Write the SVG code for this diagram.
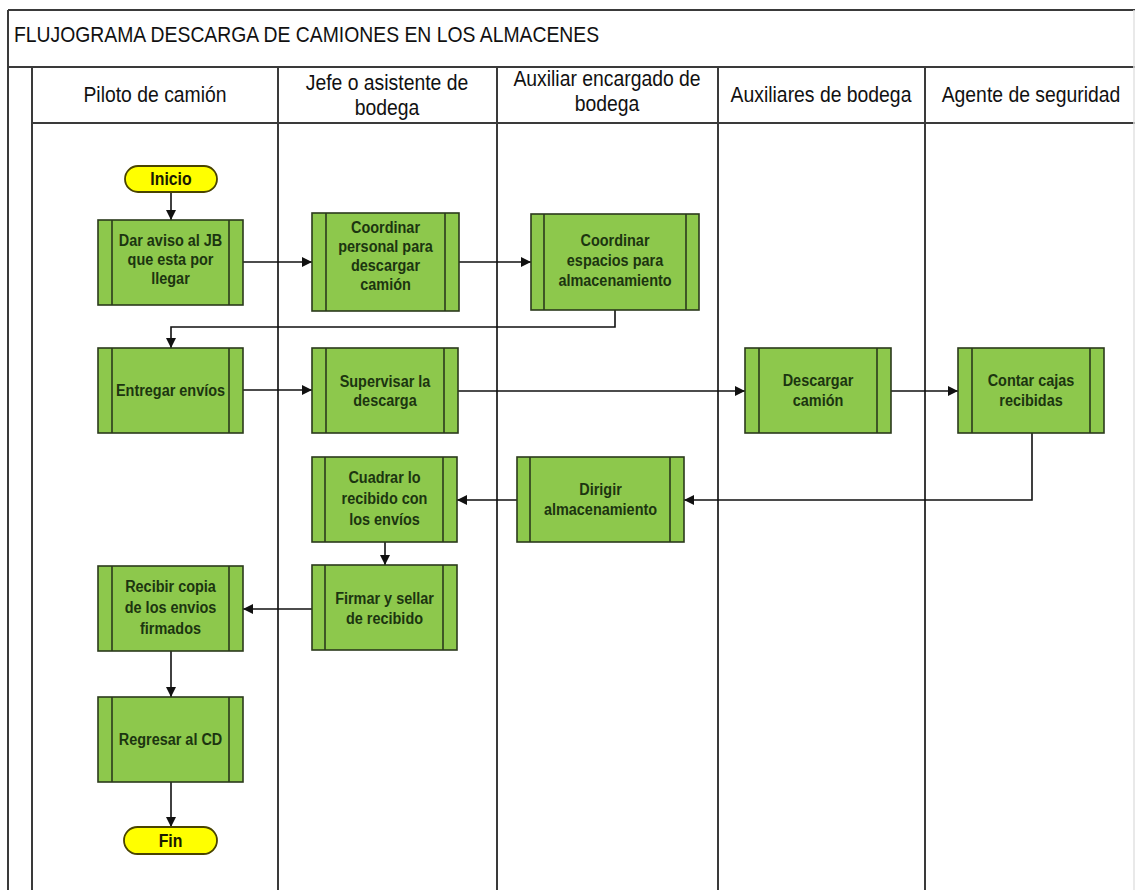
<svg xmlns="http://www.w3.org/2000/svg" width="1135" height="890" viewBox="0 0 1135 890">
  <defs>
    <style>
      .grid { stroke: #3a3a3a; stroke-width: 2; fill: none; }
      .title { font-family: "Liberation Sans", Arial, sans-serif; font-size: 22px; fill: #111; }
      .hd { font-family: "Liberation Sans", Arial, sans-serif; font-size: 22px; fill: #111; text-anchor: middle; }
      .box { fill: #8DC84C; stroke: #2b3a1c; stroke-width: 1.6; }
      .bar { stroke: #2b3a1c; stroke-width: 1.6; fill: none; }
      .term { fill: #FFFF00; stroke: #4a4400; stroke-width: 1.8; }
      .nt { font-family: "Liberation Sans", Arial, sans-serif; font-size: 17px; font-weight: bold; fill: #1c3510; text-anchor: middle; }
      .tt { font-family: "Liberation Sans", Arial, sans-serif; font-size: 18px; font-weight: bold; fill: #1a1a00; text-anchor: middle; }
      .conn { stroke: #111; stroke-width: 1.6; fill: none; marker-end: url(#arrow); }
    </style>
    <marker id="arrow" markerUnits="userSpaceOnUse" markerWidth="11" markerHeight="10" refX="10" refY="5" orient="auto">
      <path d="M0,0 L10,5 L0,10 z" fill="#111"/>
    </marker>
  </defs>

  <rect width="1135" height="890" fill="#ffffff"/>

  <!-- Swimlane frame -->
  <g id="frame">
    <line class="grid" x1="8" y1="10" x2="1135" y2="10"/>
    <line class="grid" x1="8" y1="67" x2="1135" y2="67"/>
    <line class="grid" x1="32" y1="123" x2="1135" y2="123" stroke="#555"/>
    <line class="grid" x1="8" y1="10" x2="8" y2="890"/>
    <line class="grid" x1="32" y1="67" x2="32" y2="890"/>
    <line class="grid" x1="278" y1="67" x2="278" y2="890"/>
    <line class="grid" x1="497" y1="67" x2="497" y2="890"/>
    <line class="grid" x1="718" y1="67" x2="718" y2="890"/>
    <line class="grid" x1="925" y1="67" x2="925" y2="890"/>
    <line x1="1134" y1="10" x2="1134" y2="890" stroke="#e2e2e2" stroke-width="1.5"/>
    <text class="title" transform="translate(14 0) scale(0.88 1)" x="0" y="42">FLUJOGRAMA DESCARGA DE CAMIONES EN LOS ALMACENES</text>
    <text class="hd" transform="translate(155 0) scale(0.88 1)" x="0" y="102">Piloto de camión</text>
    <text class="hd" transform="translate(387 0) scale(0.88 1)"><tspan x="0" y="90">Jefe o asistente de</tspan><tspan x="0" y="115">bodega</tspan></text>
    <text class="hd" transform="translate(607 0) scale(0.88 1)"><tspan x="0" y="86">Auxiliar encargado de</tspan><tspan x="0" y="111">bodega</tspan></text>
    <text class="hd" transform="translate(821 0) scale(0.88 1)" x="0" y="102">Auxiliares de bodega</text>
    <text class="hd" transform="translate(1031 0) scale(0.88 1)" x="0" y="102">Agente de seguridad</text>
  </g>

  <!-- Connectors -->
  <g id="connectors">
    <path class="conn" d="M171,192 V220"/>
    <path class="conn" d="M243,262 H312"/>
    <path class="conn" d="M459,262 H531"/>
    <path class="conn" d="M615,310 V327 H171 V348"/>
    <path class="conn" d="M243,390 H312"/>
    <path class="conn" d="M458,391 H745"/>
    <path class="conn" d="M891,391 H958"/>
    <path class="conn" d="M1032,433 V500 H684"/>
    <path class="conn" d="M517,500 H457"/>
    <path class="conn" d="M385,542 V565"/>
    <path class="conn" d="M312,609 H243"/>
    <path class="conn" d="M171,651 V697"/>
    <path class="conn" d="M171,782 V827"/>
  </g>

  <!-- Start / end terminals -->
  <g id="inicio">
    <rect class="term" x="125" y="166" width="92" height="26" rx="13"/>
    <text class="tt" transform="translate(171 0) scale(0.88 1)" x="0" y="185.5">Inicio</text>
  </g>
  <g id="fin">
    <rect class="term" x="124" y="827" width="93" height="27" rx="13.5"/>
    <text class="tt" transform="translate(170.5 0) scale(0.88 1)" x="0" y="847.5">Fin</text>
  </g>

  <!-- Process nodes -->
  <g id="dar-aviso">
    <rect class="box" x="98" y="220" width="145" height="85"/>
    <line class="bar" x1="112" y1="220" x2="112" y2="305"/>
    <line class="bar" x1="229" y1="220" x2="229" y2="305"/>
    <text class="nt" transform="translate(170.5 0) scale(0.85 1)"><tspan x="0" y="246">Dar aviso al JB</tspan><tspan x="0" y="265">que esta por</tspan><tspan x="0" y="284">llegar</tspan></text>
  </g>

  <g id="coordinar-personal">
    <rect class="box" x="312" y="213" width="147" height="98"/>
    <line class="bar" x1="326" y1="213" x2="326" y2="311"/>
    <line class="bar" x1="445" y1="213" x2="445" y2="311"/>
    <text class="nt" transform="translate(385.5 0) scale(0.85 1)"><tspan x="0" y="233">Coordinar</tspan><tspan x="0" y="252">personal para</tspan><tspan x="0" y="271">descargar</tspan><tspan x="0" y="290">camión</tspan></text>
  </g>

  <g id="coordinar-espacios">
    <rect class="box" x="531" y="214" width="168" height="96"/>
    <line class="bar" x1="544" y1="214" x2="544" y2="310"/>
    <line class="bar" x1="686" y1="214" x2="686" y2="310"/>
    <text class="nt" transform="translate(615 0) scale(0.85 1)"><tspan x="0" y="246">Coordinar</tspan><tspan x="0" y="266">espacios para</tspan><tspan x="0" y="286">almacenamiento</tspan></text>
  </g>

  <g id="entregar-envios">
    <rect class="box" x="98" y="348" width="145" height="85"/>
    <line class="bar" x1="112" y1="348" x2="112" y2="433"/>
    <line class="bar" x1="229" y1="348" x2="229" y2="433"/>
    <text class="nt" transform="translate(170.5 0) scale(0.85 1)" x="0" y="396">Entregar envíos</text>
  </g>

  <g id="supervisar">
    <rect class="box" x="312" y="348" width="146" height="85"/>
    <line class="bar" x1="326" y1="348" x2="326" y2="433"/>
    <line class="bar" x1="444" y1="348" x2="444" y2="433"/>
    <text class="nt" transform="translate(385 0) scale(0.85 1)"><tspan x="0" y="387">Supervisar la</tspan><tspan x="0" y="406">descarga</tspan></text>
  </g>

  <g id="descargar">
    <rect class="box" x="745" y="348" width="146" height="85"/>
    <line class="bar" x1="759" y1="348" x2="759" y2="433"/>
    <line class="bar" x1="877" y1="348" x2="877" y2="433"/>
    <text class="nt" transform="translate(818 0) scale(0.85 1)"><tspan x="0" y="386">Descargar</tspan><tspan x="0" y="406">camión</tspan></text>
  </g>

  <g id="contar-cajas">
    <rect class="box" x="958" y="348" width="146" height="85"/>
    <line class="bar" x1="972" y1="348" x2="972" y2="433"/>
    <line class="bar" x1="1090" y1="348" x2="1090" y2="433"/>
    <text class="nt" transform="translate(1031 0) scale(0.85 1)"><tspan x="0" y="386">Contar cajas</tspan><tspan x="0" y="406">recibidas</tspan></text>
  </g>

  <g id="dirigir">
    <rect class="box" x="517" y="457" width="167" height="85"/>
    <line class="bar" x1="530" y1="457" x2="530" y2="542"/>
    <line class="bar" x1="670" y1="457" x2="670" y2="542"/>
    <text class="nt" transform="translate(600.5 0) scale(0.85 1)"><tspan x="0" y="495">Dirigir</tspan><tspan x="0" y="515">almacenamiento</tspan></text>
  </g>

  <g id="cuadrar">
    <rect class="box" x="312" y="457" width="145" height="85"/>
    <line class="bar" x1="325" y1="457" x2="325" y2="542"/>
    <line class="bar" x1="443" y1="457" x2="443" y2="542"/>
    <text class="nt" transform="translate(384.5 0) scale(0.85 1)"><tspan x="0" y="483">Cuadrar lo</tspan><tspan x="0" y="504">recibido con</tspan><tspan x="0" y="525">los envíos</tspan></text>
  </g>

  <g id="firmar">
    <rect class="box" x="312" y="565" width="145" height="85"/>
    <line class="bar" x1="325" y1="565" x2="325" y2="650"/>
    <line class="bar" x1="443" y1="565" x2="443" y2="650"/>
    <text class="nt" transform="translate(384.5 0) scale(0.85 1)"><tspan x="0" y="604">Firmar y sellar</tspan><tspan x="0" y="624">de recibido</tspan></text>
  </g>

  <g id="recibir-copia">
    <rect class="box" x="98" y="566" width="145" height="85"/>
    <line class="bar" x1="112" y1="566" x2="112" y2="651"/>
    <line class="bar" x1="229" y1="566" x2="229" y2="651"/>
    <text class="nt" transform="translate(170.5 0) scale(0.85 1)"><tspan x="0" y="592">Recibir copia</tspan><tspan x="0" y="613">de los envios</tspan><tspan x="0" y="634">firmados</tspan></text>
  </g>

  <g id="regresar">
    <rect class="box" x="98" y="697" width="145" height="85"/>
    <line class="bar" x1="112" y1="697" x2="112" y2="782"/>
    <line class="bar" x1="229" y1="697" x2="229" y2="782"/>
    <text class="nt" transform="translate(170.5 0) scale(0.85 1)" x="0" y="745">Regresar al CD</text>
  </g>
</svg>
